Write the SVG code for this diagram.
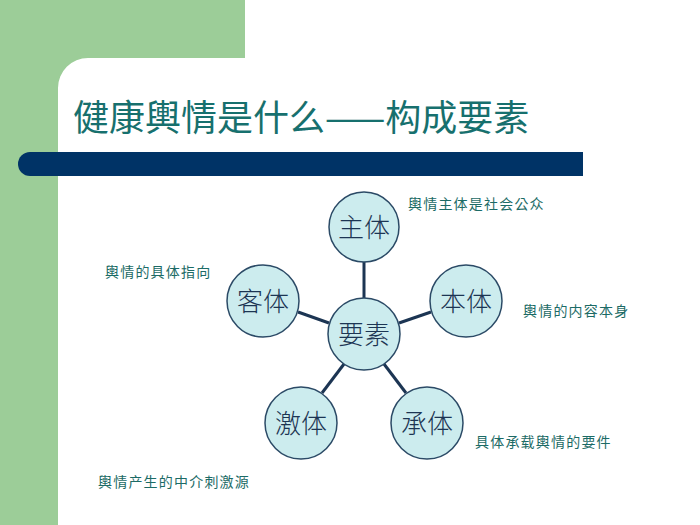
<svg xmlns="http://www.w3.org/2000/svg" width="700" height="525" viewBox="0 0 700 525">
<style>
.node circle{fill:#ccecee;stroke:#2b4a66;stroke-width:1.5}
.node text{font-family:"Noto Sans CJK SC","Noto Sans CJK TC",sans-serif;font-size:26px;fill:#1c3553;text-anchor:middle;font-weight:300}
.lbl{font-family:"Noto Sans CJK TC","Noto Sans CJK SC",sans-serif;font-size:14px;fill:#1c6b66;letter-spacing:1.2px}
#connectors line{stroke:#1c3553;stroke-width:3}
</style>
<rect x="0" y="0" width="700" height="525" fill="#ffffff"/>
<path d="M0 0H245V58H88A30 30 0 0 0 58 88V525H0Z" fill="#9ccd98"/>
<path d="M30 152H583V176H30A12 12 0 0 1 30 152Z" fill="#003366"/>
<text x="73" y="131" font-family="Noto Sans CJK TC, Noto Sans CJK SC, sans-serif" font-size="36" font-weight="400" fill="#17706e">健康輿情是什么——构成要素</text>
<g id="connectors">
<line x1="364" y1="262" x2="364" y2="299"/>
<line x1="431" y1="312" x2="399" y2="323"/>
<line x1="298" y1="312" x2="329" y2="323"/>
<line x1="322" y1="393" x2="344" y2="364"/>
<line x1="406" y1="393" x2="384" y2="364"/>
</g>
<g id="node-zhuti" class="node"><circle cx="364" cy="227" r="35"/><text x="364" y="237">主体</text></g>
<g id="node-benti" class="node"><circle cx="466" cy="301" r="36"/><text x="466" y="311">本体</text></g>
<g id="node-keti" class="node"><circle cx="263" cy="301" r="36"/><text x="263" y="311">客体</text></g>
<g id="node-yaosu" class="node"><circle cx="364" cy="334" r="36"/><text x="364" y="344">要素</text></g>
<g id="node-jiti" class="node"><circle cx="301" cy="423" r="36"/><text x="301" y="433">激体</text></g>
<g id="node-chengti" class="node"><circle cx="427" cy="423" r="36"/><text x="427" y="433">承体</text></g>
<text class="lbl" x="408" y="209">輿情主体是社会公众</text>
<text class="lbl" x="105" y="277">輿情的具体指向</text>
<text class="lbl" x="523" y="316">輿情的内容本身</text>
<text class="lbl" x="475" y="447">具体承载輿情的要件</text>
<text class="lbl" x="98" y="487">輿情产生的中介刺激源</text>
</svg>
